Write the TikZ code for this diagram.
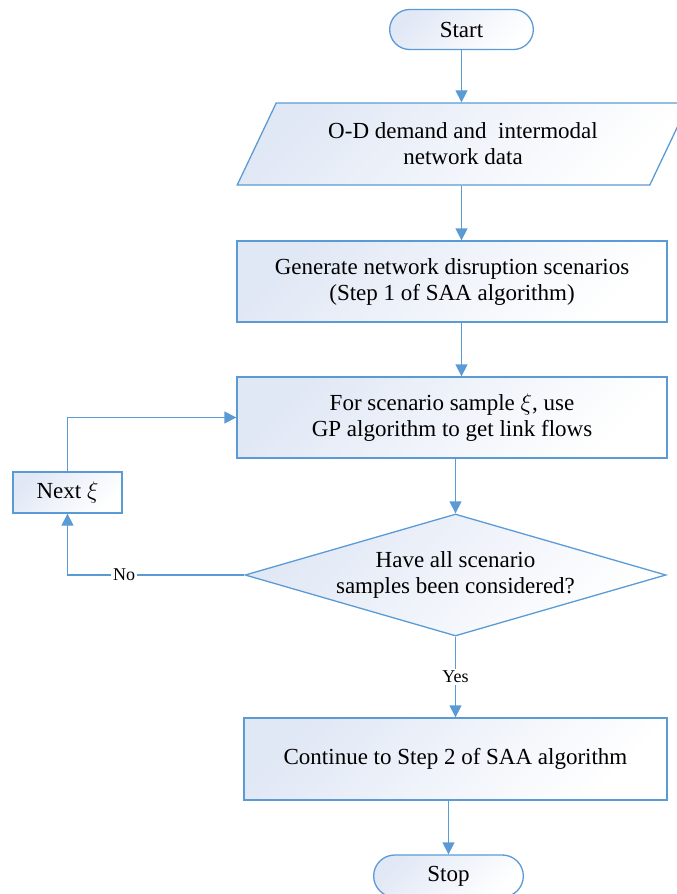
\documentclass[tikz,border=0pt]{standalone}
\usepackage{fontspec}
\setmainfont{Liberation Serif}
\usetikzlibrary{shapes.geometric,shapes.misc,arrows.meta}
\definecolor{lineblue}{RGB}{91,155,213}
\definecolor{fillblue}{RGB}{225,232,245}
\tikzset{
  flow/.style={draw=lineblue, line width=0.65pt, top color=fillblue, bottom color=white,
    shading angle=45, align=center, font=\fontsize{11.5}{13}\selectfont},
  procbox/.style={flow, rectangle, minimum width=215pt, minimum height=40.5pt},
  termbox/.style={flow, rounded rectangle, minimum height=20pt},
  databox/.style={flow, trapezium, trapezium left angle=62, trapezium right angle=118,
    trapezium stretches=true, minimum width=226pt, minimum height=41pt},
  testbox/.style={flow, diamond, aspect=3.45, inner sep=0pt,
    minimum width=210.5pt, minimum height=61pt},
  link/.style={draw=lineblue, line width=0.65pt, -{Triangle[length=6pt,width=6pt]}},
  tag/.style={fill=white, inner sep=1pt, font=\fontsize{9}{10}\selectfont}
}
\begin{document}
\begin{tikzpicture}[x=0.5pt, y=-0.5pt]
      \useasboundingbox (0,0) rectangle (676,894);

      % Draw the main column of the chart
      \node[termbox, minimum width=78.5pt] (start) at (461.5,29.5) {Start};
      \node[databox] (data) at (463,144) {O-D demand and\ \ intermodal\\network data};
      \node[procbox] (gen) at (452,281.5) {Generate network disruption scenarios\\(Step 1 of SAA algorithm)};
      \node[procbox] (flows) at (452,417.5) {For scenario sample $\xi$, use\\GP algorithm to get link flows};
      \node[testbox] (check) at (455.5,575) {Have all scenario\\samples been considered?};
      \node[procbox, minimum width=211.5pt, minimum height=41pt] (cont) at (455.5,759) {Continue to Step 2 of SAA algorithm};
      \node[termbox, minimum width=81.5pt, minimum height=21pt] (stop) at (448.5,876) {Stop};

      % Add the loop box on the left
      \node[procbox, minimum width=54.5pt, minimum height=20.5pt] (next) at (67.5,492.5) {Next $\xi$};

      % Connect the boxes
      \draw[link] (start.south) -- (start.south |- data.north);
      \draw[link] (start.south |- data.south) -- (start.south |- gen.north);
      \draw[link] (start.south |- gen.south) -- (start.south |- flows.north);
      \draw[link] (check.north |- flows.south) -- (check.north);
      \draw[link] (check.south) -- node[tag] {Yes} (check.south |- cont.north);
      \draw[link] (stop.north |- cont.south) -- (stop.north);
      \draw[link] (check.west) -| node[tag, pos=0.34] {No} (next.south);
      \draw[link] (next.north) |- (flows.west);
    \end{tikzpicture}
\end{document}
